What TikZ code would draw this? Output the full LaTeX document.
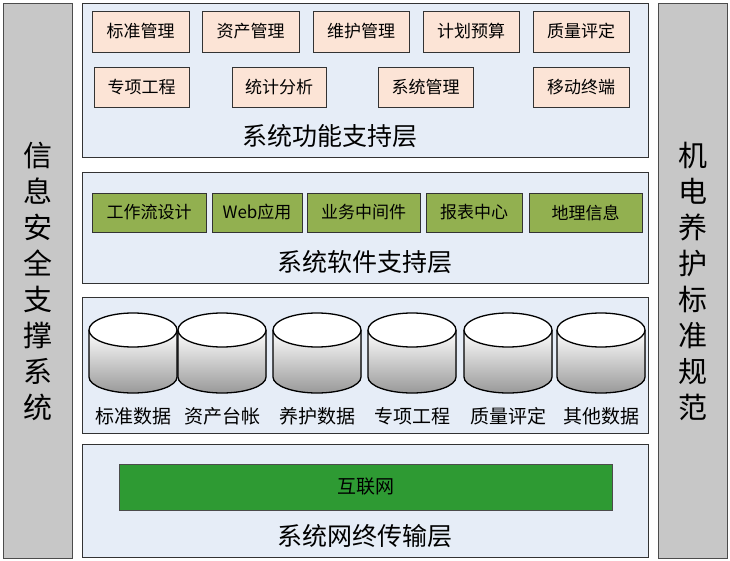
\documentclass[tikz,border=0pt]{standalone}
\usepackage{fontspec}
\setmainfont{Noto Sans CJK SC}
\definecolor{pfill}{HTML}{E6EDF7}
\definecolor{ffill}{HTML}{FCE4D6}
\definecolor{gfill}{HTML}{92B050}
\definecolor{nfill}{HTML}{2E9A33}
\begin{document}
\begin{tikzpicture}[x=1pt,y=-1pt,
 panel/.style={draw=black!80,line width=0.8pt,fill=pfill},
 side/.style={draw=black!70,line width=0.8pt,fill=black!22},
 fbox/.style={draw=black!80,line width=0.8pt,fill=ffill,font=\fontsize{17}{17}\selectfont,inner sep=0pt},
 gbox/.style={draw=black!80,line width=0.8pt,fill=gfill,font=\fontsize{17}{17}\selectfont,inner sep=0pt},
 ttl/.style={font=\fontsize{25}{25}\selectfont},
 vt/.style={font=\fontsize{29}{29}\selectfont,align=center}]
\useasboundingbox (0,0) rectangle (730,561);
\draw[side] (3,3) rectangle (72,558);
\draw[side] (658,3) rectangle (727,558);
\node[vt] (L) at (37.5,281) {信\\[7pt]息\\[7pt]安\\[7pt]全\\[7pt]支\\[7pt]撑\\[7pt]系\\[7pt]统};
\node[vt] (R) at (692.5,281) {机\\[7pt]电\\[7pt]养\\[7pt]护\\[7pt]标\\[7pt]准\\[7pt]规\\[7pt]范};
\draw[panel] (82,3) rectangle (648,157);
\draw[panel] (82,172) rectangle (648,283);
\draw[panel] (82,297) rectangle (648,433);
\draw[panel] (82,444) rectangle (648,557);
\foreach \a/\b/\t [count=\i] in {92/189/标准管理,202/299/资产管理,313/409/维护管理,423/519/计划预算,533/629/质量评定}
  \node[fbox,minimum width=\b-\a,minimum height=41] (f\i) at ({(\a+\b)/2},31.5) {\t};
\foreach \a/\b/\t [count=\i] in {94/189/专项工程,232/326/统计分析,378/473/系统管理,533/629/移动终端}
  \node[fbox,minimum width=\b-\a,minimum height=40] (g\i) at ({(\a+\b)/2},87) {\t};
\node[ttl] (t1) at (330,136) {系统功能支持层};
\foreach \a/\b/\t [count=\i] in {92/206/工作流设计,212/302/Web应用,307/420/业务中间件,426/522/报表中心,529/642/地理信息}
  \node[gbox,minimum width=\b-\a,minimum height=39] (s\i) at ({(\a+\b)/2},212.5) {\t};
\node[ttl] (t2) at (365,262) {系统软件支持层};
\foreach \cx/\t [count=\i] in {133/标准数据,222/资产台帐,317/养护数据,412/专项工程,508/质量评定,601/其他数据}{
  \fill[top color=white,bottom color=black!40] (\cx-44,330) -- (\cx-44,377) arc[start angle=180,end angle=0,x radius=44,y radius=16] -- (\cx+44,330) -- cycle;
  \draw[line width=1.3pt] (\cx-44,330) -- (\cx-44,377) arc[start angle=180,end angle=0,x radius=44,y radius=16] -- (\cx+44,330);
  \draw[line width=1.3pt,fill=white] (\cx,330) ellipse[x radius=44,y radius=17];
  \node[font=\fontsize{19}{19}\selectfont] (d\i) at (\cx,416) {\t};}
\node[draw=black!70,fill=nfill,minimum width=493,minimum height=46,font=\fontsize{19}{19}\selectfont,inner sep=0pt] (net) at (365.5,487) {互联网};
\node[ttl] (t4) at (365,536) {系统网终传输层};
\end{tikzpicture}
\end{document}
